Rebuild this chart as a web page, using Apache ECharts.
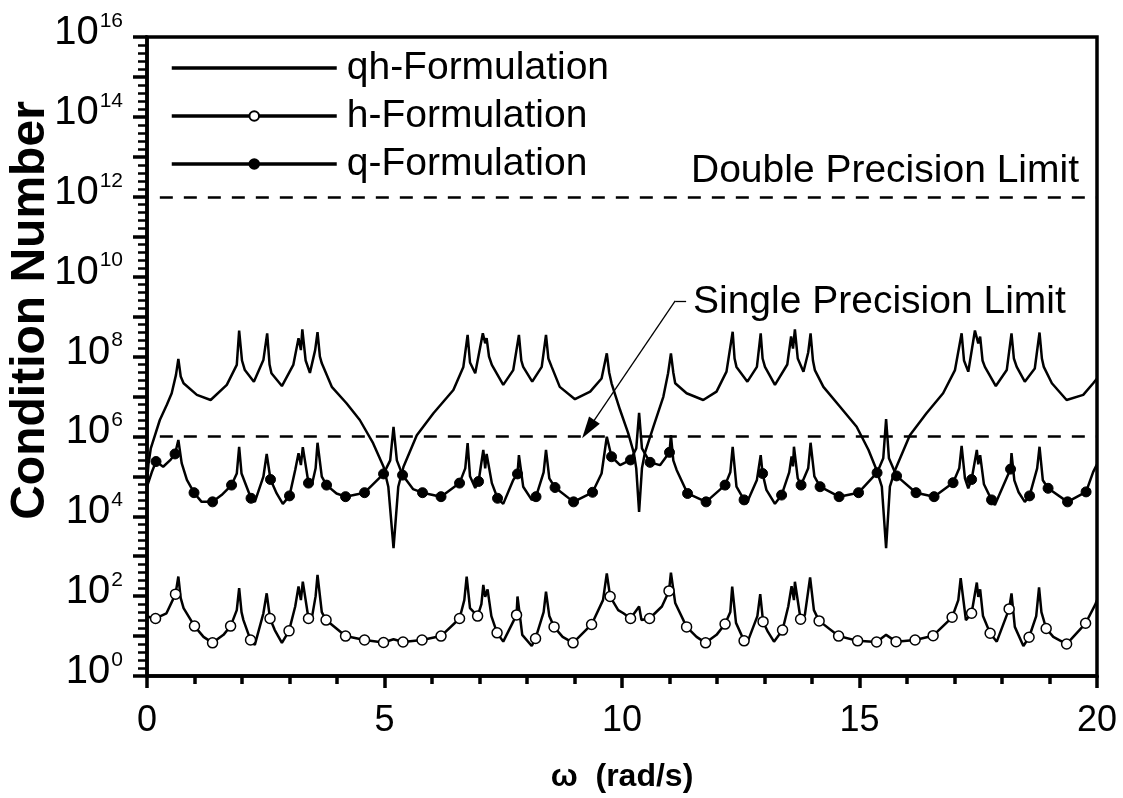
<!DOCTYPE html>
<html>
<head>
<meta charset="utf-8">
<script src="https://cdn.jsdelivr.net/npm/echarts/dist/echarts.min.js"></script>
<style>
html,body{margin:0;padding:0;background:#fff;}
#chart{width:1123px;height:798px;}
</style>
</head>
<body>
<div id="chart"></div>
<script>
// All y values are log10(condition number).
const xTicks = [0, 5, 10, 15, 20];
const seriesNames = ['qh-Formulation', 'h-Formulation', 'q-Formulation'];

const qhCurve = [[0,4.85],[0.03,5.3],[0.08,5.7],[0.27,6.41],[0.42,6.8],[0.52,7.08],[0.61,7.54],[0.66,7.94],[0.71,7.5],[0.77,7.33],[1.05,7.04],[1.34,6.91],[1.68,7.29],[1.89,7.79],[1.94,8.65],[2.0,7.9],[2.06,7.66],[2.25,7.37],[2.45,7.91],[2.53,8.58],[2.58,7.8],[2.62,7.58],[2.84,7.26],[3.08,7.79],[3.19,8.46],[3.24,8.16],[3.27,8.68],[3.34,7.9],[3.43,7.59],[3.54,8.16],[3.59,8.61],[3.64,8.0],[3.68,7.83],[3.89,7.24],[4.2,6.83],[4.48,6.41],[4.76,5.83],[4.98,5.24],[5.08,4.74],[5.19,3.2],[5.29,4.74],[5.4,5.24],[5.68,6.03],[6.03,6.58],[6.45,7.16],[6.66,7.74],[6.75,8.54],[6.8,7.85],[6.91,7.58],[7.07,8.58],[7.12,8.33],[7.15,8.46],[7.2,8.0],[7.26,7.79],[7.5,7.29],[7.71,7.66],[7.83,8.54],[7.88,7.9],[7.92,7.74],[8.11,7.37],[8.31,7.74],[8.4,8.54],[8.45,7.95],[8.52,7.74],[8.69,7.24],[9.01,6.93],[9.33,7.12],[9.57,7.45],[9.68,8.08],[9.73,7.6],[9.78,7.33],[9.96,6.66],[10.13,6.08],[10.25,5.58],[10.3,5.2],[10.36,4.11],[10.42,5.2],[10.48,5.58],[10.66,6.24],[10.87,6.99],[10.97,7.58],[11.03,8.08],[11.08,7.6],[11.12,7.33],[11.36,7.08],[11.71,6.91],[11.99,7.12],[12.2,7.62],[12.33,8.62],[12.37,7.95],[12.41,7.74],[12.64,7.37],[12.84,7.74],[12.92,8.58],[12.96,7.95],[13.01,7.74],[13.22,7.29],[13.48,7.8],[13.56,8.5],[13.6,8.2],[13.64,8.68],[13.7,7.95],[13.82,7.62],[13.92,8.1],[13.97,8.58],[14.02,7.9],[14.06,7.66],[14.24,7.24],[14.59,6.74],[14.94,6.24],[15.19,5.66],[15.36,5.16],[15.47,4.74],[15.56,3.2],[15.64,4.74],[15.75,5.16],[16.06,6.03],[16.41,6.58],[16.76,7.08],[17.01,7.66],[17.15,8.58],[17.2,7.9],[17.29,7.62],[17.43,8.65],[17.5,8.33],[17.54,8.5],[17.59,7.9],[17.64,7.74],[17.87,7.26],[18.1,7.66],[18.2,8.58],[18.25,7.95],[18.31,7.74],[18.48,7.37],[18.69,7.7],[18.79,8.6],[18.84,7.95],[18.88,7.74],[19.05,7.33],[19.36,6.91],[19.71,7.04],[19.92,7.33],[20,7.45]];

const hCurve = [[0,1.49],[0.41,1.57],[0.66,2.49],[0.71,1.95],[0.77,1.7],[1.19,0.98],[1.61,1.03],[1.89,1.65],[1.94,2.2],[1.99,1.6],[2.03,1.4],[2.27,0.78],[2.45,1.57],[2.52,2.07],[2.69,1.15],[2.84,0.83],[3.12,1.74],[3.19,2.24],[3.24,1.9],[3.28,2.36],[3.47,1.45],[3.55,2.0],[3.59,2.53],[3.68,1.6],[5.19,0.92],[6.68,1.9],[6.73,2.49],[6.8,1.7],[7.04,1.8],[7.08,2.28],[7.12,1.98],[7.17,2.17],[7.25,1.5],[7.5,0.86],[7.8,1.99],[7.9,1.03],[8.1,0.75],[8.35,1.6],[8.4,2.11],[8.47,1.5],[8.75,0.98],[9.6,1.9],[9.68,2.57],[9.92,1.65],[10.03,1.57],[10.36,1.74],[10.41,1.4],[10.84,1.74],[11.03,2.59],[11.12,1.83],[11.57,0.98],[11.99,1.03],[12.28,1.6],[12.32,2.24],[12.4,1.33],[12.62,0.78],[12.85,1.5],[12.91,2.05],[13.07,1.11],[13.2,0.86],[13.5,1.74],[13.57,2.25],[13.62,1.9],[13.64,2.36],[13.85,1.53],[13.96,2.47],[14.04,1.65],[15.56,1.03],[17.08,1.9],[17.13,2.45],[17.24,1.4],[17.47,2.34],[17.5,1.98],[17.54,2.17],[17.6,1.5],[17.89,0.86],[18.2,2.07],[18.27,1.23],[18.45,0.75],[18.72,1.5],[18.78,2.22],[18.83,1.6],[19.08,0.98],[19.96,1.78],[20,1.9]];
const hMarks = [[0.18,1.44],[0.6,2.05],[1.0,1.25],[1.38,0.83],[1.76,1.25],[2.18,0.9],[2.59,1.44],[2.99,1.13],[3.4,1.44],[3.77,1.4],[4.18,1.0],[4.58,0.9],[4.98,0.84],[5.39,0.85],[5.79,0.9],[6.19,1.0],[6.58,1.44],[6.96,1.5],[7.37,1.08],[7.78,1.53],[8.18,0.94],[8.57,1.23],[8.97,0.83],[9.36,1.29],[9.75,1.99],[10.18,1.44],[10.58,1.44],[10.99,2.13],[11.36,1.23],[11.76,0.83],[12.17,1.3],[12.57,0.88],[12.97,1.36],[13.38,1.15],[13.76,1.42],[14.15,1.38],[14.56,1.0],[14.96,0.88],[15.36,0.85],[15.77,0.86],[16.17,0.9],[16.55,1.01],[16.95,1.47],[17.36,1.57],[17.75,1.07],[18.15,1.68],[18.57,0.97],[18.93,1.19],[19.36,0.8],[19.76,1.32]];

const qCurve = [[0,4.74],[0.1,5.1],[0.34,5.24],[0.5,5.42],[0.66,5.91],[0.73,5.33],[0.84,4.91],[1.15,4.36],[1.57,4.53],[1.89,5.07],[1.94,5.74],[1.99,5.07],[2.27,4.36],[2.45,4.99],[2.52,5.56],[2.73,4.57],[2.86,4.31],[3.12,5.16],[3.19,5.58],[3.24,5.28],[3.28,5.73],[3.47,4.78],[3.55,5.2],[3.59,5.84],[3.68,4.99],[3.99,4.57],[5.12,5.4],[5.19,6.24],[5.26,5.4],[5.6,4.68],[6.7,5.2],[6.75,5.83],[6.8,5.0],[6.91,4.71],[7.08,5.66],[7.12,5.2],[7.15,5.56],[7.26,4.83],[7.5,4.31],[7.71,4.91],[7.83,5.53],[7.92,4.74],[8.1,4.41],[8.35,5.1],[8.4,5.66],[8.47,4.95],[9.57,5.07],[9.68,5.99],[9.96,5.28],[10.3,5.7],[10.36,6.59],[10.42,5.7],[10.8,5.28],[11.03,6.03],[11.08,5.4],[11.15,5.16],[12.28,5.1],[12.33,5.74],[12.41,4.74],[12.62,4.31],[12.84,4.91],[12.92,5.53],[13.04,4.66],[13.22,4.31],[13.52,5.1],[13.57,5.5],[13.6,5.25],[13.62,5.74],[13.7,4.95],[13.92,5.2],[13.97,5.84],[14.05,5.0],[15.5,5.45],[15.56,6.43],[15.62,5.45],[17.1,5.2],[17.15,5.76],[17.22,4.95],[17.29,4.7],[17.47,5.66],[17.5,5.3],[17.54,5.53],[17.62,4.8],[17.85,4.28],[18.2,5.58],[18.26,4.9],[18.35,4.6],[18.48,4.36],[18.74,5.2],[18.79,5.74],[18.86,4.9],[19.92,5.11],[20,5.3]];
const qMarks = [[0.19,5.37],[0.59,5.56],[0.99,4.59],[1.38,4.36],[1.78,4.78],[2.19,4.45],[2.6,4.92],[3.0,4.51],[3.4,4.83],[3.78,4.78],[4.18,4.49],[4.58,4.59],[4.98,5.06],[5.38,5.03],[5.8,4.59],[6.19,4.49],[6.58,4.83],[6.98,4.87],[7.38,4.45],[7.8,5.06],[8.19,4.49],[8.59,4.72],[8.98,4.36],[9.38,4.6],[9.78,5.49],[10.18,5.41],[10.59,5.35],[11.0,5.6],[11.38,4.57],[11.77,4.36],[12.17,4.78],[12.57,4.41],[12.96,5.07],[13.36,4.53],[13.77,4.78],[14.17,4.74],[14.57,4.49],[14.98,4.59],[15.37,5.09],[15.78,5.01],[16.19,4.59],[16.57,4.49],[16.97,4.84],[17.36,4.92],[17.78,4.41],[18.18,5.18],[18.58,4.51],[18.97,4.7],[19.38,4.36],[19.77,4.61]];

// Precision limits (log10) and annotation anchor points (x, log10)
const doubleLimit = 12;
const singleLimit = 6;
const limitStartX = 0.27;
const arrowFrom = [11.12, 9.39];
const arrowTo = [9.29, 6.18];
const leaderEndX = 11.35;

const FONT = 'Liberation Sans, Arial, Helvetica, sans-serif';

function mergeData(curve, marks) {
  const items = curve.map(p => ({ value: p, _m: 0 }));
  (marks || []).forEach(p => items.push({ value: p, _m: 1 }));
  items.sort((a, b) => a.value[0] - b.value[0] || a._m - b._m);
  return items.map(it => it._m ? { value: it.value } : { value: it.value, symbol: 'none' });
}

const chart = echarts.init(document.getElementById('chart'), null, { renderer: 'canvas' });

const option = {
  animation: false,
  backgroundColor: '#fff',
  grid: {
    left: 147, right: 26, top: 37, bottom: 122,
    containLabel: false, outerBoundsMode: 'none',
    show: true, borderColor: '#000', borderWidth: 3.5, backgroundColor: 'transparent'
  },
  legend: {
    orient: 'vertical', left: 170, top: 44, padding: 0,
    itemWidth: 165, itemHeight: 12, itemGap: 0,
    selectedMode: false,
    lineStyle: { width: 3.5 },
    textStyle: { fontSize: 39, fontFamily: FONT, color: '#000', lineHeight: 48, padding: [0, 0, 0, 5] },
    data: [
      { name: seriesNames[0], itemStyle: { opacity: 0 } },
      { name: seriesNames[1] },
      { name: seriesNames[2] }
    ]
  },
  xAxis: {
    type: 'value', min: xTicks[0], max: xTicks[xTicks.length - 1], interval: 5,
    name: 'ω  (rad/s)', nameLocation: 'middle', nameGap: 85, nameMoveOverlap: false,
    nameTextStyle: { fontSize: 32, fontWeight: 'bold', fontFamily: FONT, color: '#000' },
    axisLine: { lineStyle: { color: '#000', width: 3.5 } },
    axisTick: { show: true, length: 12, lineStyle: { color: '#000', width: 3.5 } },
    minorTick: { show: true, splitNumber: 5, length: 8, lineStyle: { color: '#000', width: 3.5 } },
    axisLabel: { fontSize: 36, fontFamily: FONT, color: '#000', margin: 27 },
    splitLine: { show: false }
  },
  yAxis: {
    type: 'value', min: 0, max: 16, interval: 1,
    name: 'Condition Number', nameLocation: 'middle', nameGap: 92, nameMoveOverlap: false,
    nameTextStyle: { fontSize: 48, fontWeight: 'bold', fontFamily: FONT, color: '#000', padding: [0, 0, 0, 92] },
    axisLine: { lineStyle: { color: '#000', width: 3.5 } },
    axisTick: { show: true, length: 14, lineStyle: { color: '#000', width: 3.5 } },
    minorTick: { show: true, splitNumber: 5, length: 9, lineStyle: { color: '#000', width: 2.5 } },
    splitLine: { show: false },
    axisLabel: {
      margin: 24,
      formatter: function (v) { return (Math.round(v) % 2 === 0) ? '{b|10}{s|' + Math.round(v) + '}' : ''; },
      rich: {
        b: { fontSize: 40, fontFamily: FONT, color: '#000', lineHeight: 40, padding: [0, 0, 8, 0] },
        s: { fontSize: 21, fontFamily: FONT, color: '#000', lineHeight: 20, padding: [0, 0, 32, 1] }
      }
    }
  },
  series: [
    {
      name: seriesNames[0], type: 'line', data: mergeData(qhCurve, []),
      symbol: 'none', showSymbol: false,
      lineStyle: { color: '#000', width: 2.5 }, itemStyle: { color: '#000' }, z: 3
    },
    {
      name: seriesNames[1], type: 'line', data: mergeData(hCurve, hMarks),
      symbol: 'circle', symbolSize: 10, showSymbol: true,
      lineStyle: { color: '#000', width: 2.5 },
      itemStyle: { color: '#fff', borderColor: '#000', borderWidth: 1.5 }, z: 4
    },
    {
      name: seriesNames[2], type: 'line', data: mergeData(qCurve, qMarks),
      symbol: 'circle', symbolSize: 10, showSymbol: true,
      lineStyle: { color: '#000', width: 2.5 },
      itemStyle: { color: '#000', borderColor: '#000', borderWidth: 1 }, z: 4
    },
    {
      name: 'limits', type: 'line', data: [], z: 2,
      markLine: {
        silent: true, animation: false, symbol: ['none', 'none'],
        label: { show: false },
        data: [
          [{ coord: [limitStartX, doubleLimit], lineStyle: { color: '#000', width: 2.7, type: [13, 11] } }, { coord: [xTicks[4], doubleLimit] }],
          [{ coord: [limitStartX, singleLimit], lineStyle: { color: '#000', width: 2.7, type: [13, 11] } }, { coord: [xTicks[4], singleLimit] }],
          [{ coord: arrowFrom, lineStyle: { color: '#000', width: 1.3, type: 'solid' } }, { coord: [leaderEndX, arrowFrom[1]] }],
          [{ coord: arrowFrom, symbol: 'none', lineStyle: { color: '#000', width: 1.3, type: 'solid' } }, { coord: arrowTo, symbol: 'triangle', symbolSize: [13, 22] }]
        ]
      }
    }
  ],
  graphic: [
    { type: 'text', x: 691, y: 171, style: { text: 'Double Precision Limit', fontSize: 39, fontFamily: FONT, fill: '#000', verticalAlign: 'middle', textVerticalAlign: 'middle' } },
    { type: 'text', x: 693, y: 302, style: { text: 'Single Precision Limit', fontSize: 39, fontFamily: FONT, fill: '#000', verticalAlign: 'middle', textVerticalAlign: 'middle' } }
  ]
};
chart.setOption(option);
</script>
</body>
</html>
